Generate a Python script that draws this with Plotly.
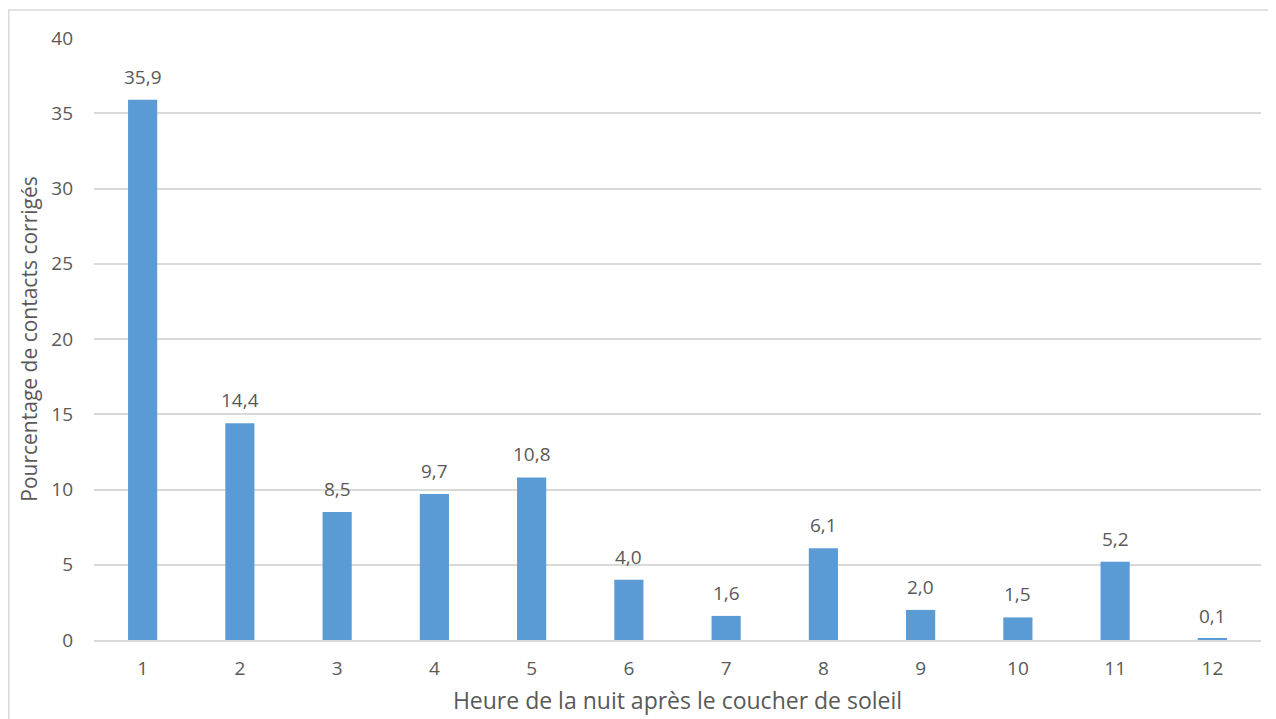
import plotly.graph_objects as go

hours = [str(i) for i in range(1, 13)]
pct = [35.9, 14.4, 8.5, 9.7, 10.8, 4.0, 1.6, 6.1, 2.0, 1.5, 5.2, 0.1]
y_ticks = [0, 5, 10, 15, 20, 25, 30, 35, 40]

FONT = "Open Sans"
TXT = "#595959"

fig = go.Figure()
fig.add_trace(go.Bar(x=hours, y=pct, marker=dict(color="#5B9BD5", line=dict(width=0)),
                     width=0.3, hoverinfo="x+y"))

for i, v in enumerate(pct):
    fig.add_annotation(x=i, y=v, text=f"{v:.1f}".replace(".", ","), showarrow=False,
                       yanchor="bottom", yshift=8, font=dict(family=FONT, size=19, color=TXT))

fig.add_shape(type="rect", xref="paper", yref="paper", x0=-0.073, x1=1.05, y0=-0.3, y1=1.0465,
              line=dict(color="#D9D9D9", width=1.5), fillcolor="rgba(0,0,0,0)", layer="below")

fig.update_layout(
    width=1276, height=719,
    margin=dict(l=86, r=23, t=30, b=87),
    paper_bgcolor="white", plot_bgcolor="white",
    showlegend=False,
    bargap=0.7,
    font=dict(family=FONT, size=19, color=TXT),
    xaxis=dict(type="category", showgrid=False, showline=True, linecolor="#D9D9D9", linewidth=1.5,
               ticks="", ticklabelstandoff=10, automargin=False,
               tickfont=dict(family=FONT, size=19, color=TXT),
               title=dict(text="Heure de la nuit après le coucher de soleil", standoff=13,
                          font=dict(family=FONT, size=23, color=TXT))),
    yaxis=dict(range=[0, 40], tickvals=y_ticks, showgrid=True, gridcolor="#D9D9D9", gridwidth=1.5,
               zeroline=False, ticks="", ticklabelstandoff=20, automargin=False,
               tickfont=dict(family=FONT, size=19, color=TXT),
               title=dict(text="Pourcentage de contacts corrigés", standoff=7,
                          font=dict(family=FONT, size=21, color=TXT))),
)

fig.write_html("out.html")
